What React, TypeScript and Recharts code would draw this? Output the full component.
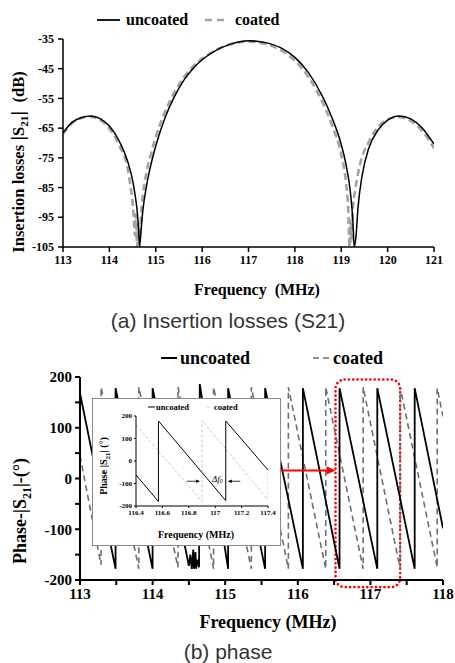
import React from 'react';
import { LineChart, Line, XAxis, YAxis, ReferenceArea, ReferenceLine, ReferenceDot } from 'recharts';

// ---------- (a) Insertion losses ----------
const s21FreqUncoated = [113.0, 113.2, 113.4, 113.6, 113.8, 114.0, 114.2, 114.4, 114.5, 114.55, 114.6, 114.63, 114.65, 114.68, 114.72, 114.8, 114.9, 115.0, 115.2, 115.4, 115.6, 115.8, 116.0, 116.3, 116.6, 117.0, 117.4, 117.7, 118.0, 118.3, 118.6, 118.8, 119.0, 119.1, 119.2, 119.25, 119.28, 119.32, 119.36, 119.45, 119.6, 119.8, 120.0, 120.25, 120.5, 120.75, 121.0];
const s21Uncoated = [-66.6, -63.0, -61.4, -60.9, -61.8, -64.3, -69.0, -76.5, -82.5, -87, -93, -99, -105, -100, -93, -84.5, -77, -71, -61.5, -54.5, -49, -45, -42, -38.8, -36.8, -35.6, -36.3, -38, -41.2, -46.5, -54.5, -61.5, -70.5, -77, -87, -96, -105, -101, -92, -81, -71.5, -65.5, -62.3, -60.9, -61.9, -65, -70.4];

const s21FreqCoated = [113.0, 113.2, 113.4, 113.6, 113.8, 114.0, 114.2, 114.4, 114.45, 114.5, 114.53, 114.55, 114.57, 114.6, 114.62, 114.65, 114.7, 114.8, 114.9, 115.0, 115.2, 115.4, 115.6, 115.8, 116.0, 116.3, 116.6, 117.0, 117.4, 117.7, 118.0, 118.3, 118.6, 118.8, 119.0, 119.1, 119.15, 119.18, 119.2, 119.22, 119.25, 119.3, 119.4, 119.6, 119.8, 120.0, 120.25, 120.5, 120.75, 121.0];
const s21Coated = [-67.0, -63.3, -61.6, -61.2, -62.3, -65.2, -70.5, -79, -84, -90, -96, -101, -94, -105, -97, -102, -91, -80, -73.5, -68, -59.5, -53, -48, -44.3, -41.6, -38.7, -36.8, -35.9, -36.8, -38.8, -42.3, -48, -56.5, -64, -74, -83, -92, -105, -96, -103, -92, -86, -77.5, -69.5, -64.5, -62, -61.3, -62.6, -66, -71.8];

const s21Ticks = [-105, -95, -85, -75, -65, -55, -45, -35];
const s21FreqTicks = [113, 114, 115, 116, 117, 118, 119, 120, 121];

// ---------- (b) Phase ----------
const phaseFreqUncoated = [113.0, 113.49, 113.49, 114.0, 114.0, 114.5, 114.52, 114.54, 114.56, 114.57, 114.59, 114.6, 114.62, 114.64, 114.65, 115.04, 115.04, 115.55, 115.55, 116.07, 116.07, 116.575, 116.575, 117.095, 117.095, 117.61, 117.61, 118.0];
const phaseUncoated = [168, -178, 178, -178, 178, -172, -150, -178, -140, -178, -145, -178, -160, -175, 186, -178, 178, -178, 178, -178, 178, -178, 178, -178, 178, -178, 178, -98];

const phaseFreqCoated = [113.0, 113.29, 113.29, 113.81, 113.81, 114.35, 114.35, 114.84, 114.84, 115.36, 115.36, 115.87, 115.87, 116.385, 116.385, 116.9, 116.9, 117.41, 117.41, 117.92, 117.92, 118.0];
const phaseCoated = [45, -170, 180, -178, 180, -175, 180, -178, 180, -178, 180, -178, 180, -178, 180, -178, 180, -178, 180, -175, 178, 122];

const phaseTicks = [-200, -150, -100, -50, 0, 50, 100, 150, 200];
const phaseFreqTicks = [113, 113.5, 114, 114.5, 115, 115.5, 116, 116.5, 117, 117.5, 118];

// ---------- inset ----------
const insetFreqUncoated = [116.4, 116.57, 116.57, 117.08, 117.08, 117.4];
const insetUncoated = [-62, -180, 178, -176, 178, -40];
const insetFreqCoated = [116.4, 116.9, 116.9, 117.4, 117.4];
const insetCoated = [160, -180, 180, -172, -40];
const insetTicks = [-200, -100, 0, 100, 200];
const insetFreqTicks = [116.4, 116.6, 116.8, 117, 117.2, 117.4];

const zip = (fs: number[], vs: number[]) => fs.map((f, i) => ({ f, v: vs[i] }));

const serif = "'Liberation Serif', 'Times New Roman', serif";
const sans = "'Liberation Sans', Arial, sans-serif";

const abs = (left: number, top: number, extra: React.CSSProperties = {}): React.CSSProperties => ({
  position: 'absolute', left, top, transform: 'translate(-50%, -50%)', whiteSpace: 'pre', lineHeight: 1, ...extra,
});

const makeTick = (size: number, axis: 'x' | 'y', fmt: (v: number) => string) => (p: any) => {
  const label = fmt(p.payload.value);
  if (!label) return <g />;
  return (
    <text x={p.x} y={p.y} textAnchor={axis === 'x' ? 'middle' : 'end'} dy={axis === 'x' ? '0.75em' : '0.35em'}
      fontFamily={serif} fontWeight="bold" fontSize={size} fill="#000">
      {label}
    </text>
  );
};

const ArrowShape = (props: any) => {
  const { x1, y1, x2, y2, stroke, strokeWidth, head } = props;
  const dx = x2 - x1; const dy = y2 - y1;
  const len = Math.sqrt(dx * dx + dy * dy) || 1;
  const ux = dx / len; const uy = dy / len;
  const h = head || 8; const w = h * 0.45;
  const bx = x2 - ux * h; const by = y2 - uy * h;
  return (
    <g>
      <line x1={x1} y1={y1} x2={bx + ux * 1} y2={by + uy * 1} stroke={stroke} strokeWidth={strokeWidth} />
      <polygon points={`${x2},${y2} ${bx - uy * w},${by + ux * w} ${bx + uy * w},${by - ux * w}`} fill={stroke} />
    </g>
  );
};

const DottedRoundRect = (props: any) => {
  const { x, y, width, height } = props;
  return <rect x={x} y={y} width={width} height={height} rx={9} ry={9} fill="none" stroke="#ff0000" strokeWidth={2.6} strokeDasharray="0.1 4.2" strokeLinecap="round" />;
};

const DeltaLabel = (props: any) => {
  const { cx, cy } = props;
  return (
    <text x={cx} y={cy} fontFamily={serif} fontSize={9} fontStyle="italic" fill="#000" dominantBaseline="middle">
      Δf<tspan fontSize={6} dy={2}>0</tspan>
    </text>
  );
};

export default function App() {
  const s21U = zip(s21FreqUncoated, s21Uncoated);
  const s21C = zip(s21FreqCoated, s21Coated);
  const phU = zip(phaseFreqUncoated, phaseUncoated);
  const phC = zip(phaseFreqCoated, phaseCoated);
  const inU = zip(insetFreqUncoated, insetUncoated);
  const inC = zip(insetFreqCoated, insetCoated);

  const intFmt = (v: number) => (Number.isInteger(v) ? String(v) : '');
  const hundredFmt = (v: number) => (v % 100 === 0 ? String(v) : '');
  const plainFmt = (v: number) => String(v);
  const decFmt = (v: number) => String(Math.round(v * 10) / 10);

  const bar = (size: number) => ({ fontSize: size, fontWeight: 'normal' as const, fontFamily: sans });

  return (
    <div style={{ position: 'absolute', left: 0, top: 0, width: 455, height: 663, background: '#fff', overflow: 'hidden' }}>
      {/* ---------- chart (a) ---------- */}
      <div style={{ position: 'absolute', left: 0, top: 0 }}>
        <LineChart width={455} height={300} margin={{ top: 39, right: 21, bottom: 23, left: 23 }}>
          <XAxis dataKey="f" type="number" domain={[113, 121]} ticks={s21FreqTicks} allowDataOverflow
            stroke="#000" strokeWidth={1.5} tickSize={5} tickMargin={3} tick={makeTick(12, 'x', plainFmt)} height={30} interval={0} />
          <YAxis type="number" domain={[-105, -35]} ticks={s21Ticks} allowDataOverflow
            stroke="#000" strokeWidth={1.5} tickSize={5} tickMargin={4} tick={makeTick(12, 'y', plainFmt)} width={40} interval={0} />
          <Line data={s21C} dataKey="v" type="monotone" stroke="#a3a3a3" strokeWidth={2.6} strokeDasharray="7 4" dot={false} isAnimationActive={false} />
          <Line data={s21U} dataKey="v" type="monotone" stroke="#000" strokeWidth={1.5} dot={false} isAnimationActive={false} />
        </LineChart>
      </div>
      {/* legend (a) */}
      <svg style={{ position: 'absolute', left: 0, top: 0 }} width={455} height={40}>
        <line x1={97} y1={20} x2={120} y2={20} stroke="#000" strokeWidth={1.8} />
        <line x1={205} y1={20} x2={228} y2={20} stroke="#a3a3a3" strokeWidth={2.6} strokeDasharray="7 5" />
      </svg>
      <div style={{ ...abs(0, 20, { transform: 'translate(0, -50%)' }), left: 126, fontFamily: serif, fontWeight: 'bold', fontSize: 16 }}>uncoated</div>
      <div style={{ ...abs(0, 20, { transform: 'translate(0, -50%)' }), left: 235, fontFamily: serif, fontWeight: 'bold', fontSize: 16 }}>coated</div>
      <div style={abs(19, 162, { transform: 'translate(-50%, -50%) rotate(-90deg)', fontFamily: serif, fontWeight: 'bold', fontSize: 16.5 })}>
        {'Insertion losses '}<span style={bar(19)}>|</span>{'S'}<sub style={{ fontSize: 11 }}>21</sub><span style={bar(19)}>|</span>{'  (dB)'}
      </div>
      <div style={abs(257, 290, { fontFamily: serif, fontWeight: 'bold', fontSize: 16 })}>{'Frequency  (MHz)'}</div>
      <div style={abs(228, 320, { fontFamily: sans, fontSize: 21, color: '#333' })}>(a) Insertion losses (S21)</div>

      {/* ---------- chart (b) ---------- */}
      <div style={{ position: 'absolute', left: 0, top: 330 }}>
        <LineChart width={455} height={300} margin={{ top: 47, right: 12, bottom: 25, left: 30 }}>
          <XAxis dataKey="f" type="number" domain={[113, 118]} ticks={phaseFreqTicks} allowDataOverflow
            stroke="#000" strokeWidth={2} tickSize={5} tickMargin={3} tick={makeTick(15, 'x', intFmt)} height={25} interval={0} />
          <YAxis type="number" domain={[-200, 200]} ticks={phaseTicks} allowDataOverflow
            stroke="#000" strokeWidth={2} tickSize={5} tickMargin={3} tick={makeTick(15, 'y', hundredFmt)} width={50} interval={0} />
          <Line data={phC} dataKey="v" type="linear" stroke="#6e6e6e" strokeWidth={1.6} strokeDasharray="6 4" dot={false} isAnimationActive={false} />
          <Line data={phU} dataKey="v" type="linear" stroke="#000" strokeWidth={1.8} dot={false} isAnimationActive={false} />
          <ReferenceArea x1={116.52} x2={117.41} y1={-214} y2={195} ifOverflow="visible" shape={DottedRoundRect} />
          <ReferenceLine segment={[{ x: 115.77, y: 16 }, { x: 116.52, y: 16 }]} ifOverflow="visible" stroke="#ff0000" strokeWidth={2} shape={(p: any) => <ArrowShape {...p} head={9} />} />
        </LineChart>
      </div>
      {/* legend (b) */}
      <svg style={{ position: 'absolute', left: 0, top: 340 }} width={455} height={40}>
        <line x1={161} y1={18} x2={177} y2={18} stroke="#000" strokeWidth={2} />
        <line x1={313} y1={18} x2={331} y2={18} stroke="#6e6e6e" strokeWidth={1.6} strokeDasharray="6 4" />
      </svg>
      <div style={{ ...abs(0, 358, { transform: 'translate(0, -50%)' }), left: 180, fontFamily: serif, fontWeight: 'bold', fontSize: 18 }}>uncoated</div>
      <div style={{ ...abs(0, 358, { transform: 'translate(0, -50%)' }), left: 333, fontFamily: serif, fontWeight: 'bold', fontSize: 18 }}>coated</div>
      <div style={abs(22, 511, { transform: 'translate(-50%, -50%) rotate(-90deg)', fontFamily: serif, fontWeight: 'bold', fontSize: 18 })}>
        {'Phase-|S'}<sub style={{ fontSize: 12 }}>21</sub>{'|-(°)'}
      </div>
      <div style={abs(268, 622, { fontFamily: serif, fontWeight: 'bold', fontSize: 18 })}>Frequency (MHz)</div>
      <div style={abs(228, 651, { fontFamily: sans, fontSize: 21, color: '#333' })}>(b) phase</div>

      {/* ---------- inset ---------- */}
      <div style={{ position: 'absolute', left: 92, top: 398, width: 189, height: 148, background: '#fff', border: '1px solid #8a8a8a', boxSizing: 'border-box' }}>
        <div style={{ position: 'absolute', left: -1, top: -1 }}>
          <LineChart width={189} height={148} margin={{ top: 18, right: 13, bottom: 26, left: 20 }}>
            <XAxis dataKey="f" type="number" domain={[116.4, 117.4]} ticks={insetFreqTicks} allowDataOverflow
              stroke="#000" strokeWidth={1} tickSize={2} tickMargin={2} tick={makeTick(7, 'x', decFmt)} height={14} interval={0} />
            <YAxis type="number" domain={[-200, 200]} ticks={insetTicks} allowDataOverflow
              stroke="#000" strokeWidth={1} tickSize={2} tickMargin={2} tick={makeTick(7, 'y', plainFmt)} width={24} interval={0} />
            <Line data={inC} dataKey="v" type="linear" stroke="#c8c8c8" strokeWidth={1} strokeDasharray="3 2" dot={false} isAnimationActive={false} />
            <Line data={inU} dataKey="v" type="linear" stroke="#000" strokeWidth={1} dot={false} isAnimationActive={false} />
            <ReferenceLine segment={[{ x: 116.785, y: -90 }, { x: 116.885, y: -90 }]} stroke="#000" strokeWidth={0.8} shape={(p: any) => <ArrowShape {...p} head={4} />} />
            <ReferenceLine segment={[{ x: 117.19, y: -90 }, { x: 117.095, y: -90 }]} stroke="#000" strokeWidth={0.8} shape={(p: any) => <ArrowShape {...p} head={4} />} />
            <ReferenceDot x={116.975} y={-84} r={0} shape={DeltaLabel} />
          </LineChart>
        </div>
        <svg style={{ position: 'absolute', left: -1, top: -1 }} width={189} height={20}>
          <line x1={56} y1={9} x2={63} y2={9} stroke="#000" strokeWidth={1} />
          <line x1={115} y1={9} x2={121} y2={9} stroke="#c8c8c8" strokeWidth={1} strokeDasharray="3 2" />
        </svg>
        <div style={{ ...abs(0, 8, { transform: 'translate(0, -50%)' }), left: 63, fontFamily: serif, fontWeight: 'bold', fontSize: 8.5 }}>uncoated</div>
        <div style={{ ...abs(0, 8, { transform: 'translate(0, -50%)' }), left: 121, fontFamily: serif, fontWeight: 'bold', fontSize: 8.5 }}>coated</div>
        <div style={abs(12, 67, { transform: 'translate(-50%, -50%) rotate(-90deg)', fontFamily: serif, fontWeight: 'bold', fontSize: 10 })}>
          {'Phase |S'}<sub style={{ fontSize: 7 }}>21</sub>{'| (°)'}
        </div>
        <div style={abs(103, 136, { fontFamily: serif, fontWeight: 'bold', fontSize: 10 })}>Frequency (MHz)</div>
      </div>
    </div>
  );
}
